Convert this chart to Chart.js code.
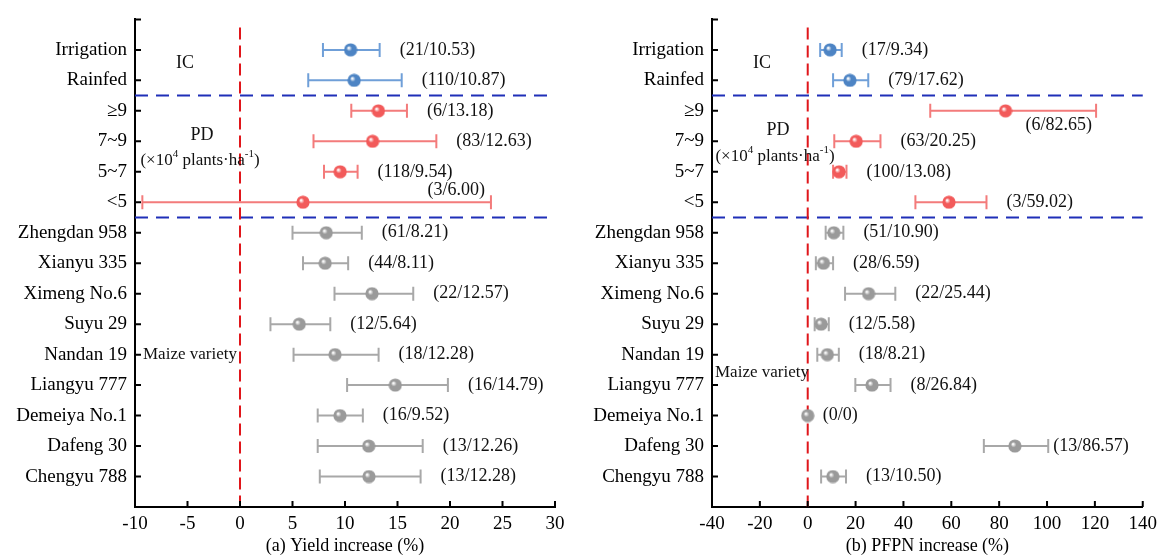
<!DOCTYPE html>
<html>
<head>
<meta charset="utf-8">
<script src="https://cdn.jsdelivr.net/npm/chart.js@4.4.0/dist/chart.umd.min.js"></script>
<style>
body { margin: 0; background: #fff; }
#wrap { position: relative; width: 1163px; height: 557px; }
.panel { position: absolute; top: 0; }
</style>
</head>
<body>
<div id="wrap">
  <div class="panel" style="left:0"><canvas id="yieldChart" width="580" height="557"></canvas></div>
  <div class="panel" style="left:580px"><canvas id="pfpnChart" width="583" height="557"></canvas></div>
</div>
<script>
var categories = ['Irrigation', 'Rainfed', '\u22659', '7~9', '5~7', '<5',
    'Zhengdan 958', 'Xianyu 335', 'Ximeng No.6', 'Suyu 29', 'Nandan 19',
    'Liangyu 777', 'Demeiya No.1', 'Dafeng 30', 'Chengyu 788'];
var groups = ['ic', 'ic', 'pd', 'pd', 'pd', 'pd',
    'mv', 'mv', 'mv', 'mv', 'mv', 'mv', 'mv', 'mv', 'mv'];

// (a) yield increase (%)
var yieldMean = [10.53, 10.87, 13.18, 12.63, 9.54, 6.00, 8.21, 8.11, 12.57, 5.64, 9.05, 14.79, 9.52, 12.26, 12.28];
var yieldLow = [7.9, 6.5, 10.6, 7.0, 8.0, -9.3, 5.0, 6.0, 9.0, 2.9, 5.1, 10.2, 7.4, 7.4, 7.6];
var yieldHigh = [13.3, 15.4, 15.9, 18.7, 11.2, 23.9, 11.6, 10.3, 16.5, 8.6, 13.2, 19.8, 11.7, 17.4, 17.2];
var yieldText = ['(21/10.53)', '(110/10.87)', '(6/13.18)', '(83/12.63)', '(118/9.54)', '(3/6.00)',
    '(61/8.21)', '(44/8.11)', '(22/12.57)', '(12/5.64)', '(18/12.28)', '(16/14.79)',
    '(16/9.52)', '(13/12.26)', '(13/12.28)'];
var yieldTicks = [-10, -5, 0, 5, 10, 15, 20, 25, 30];

// (b) PFPN increase (%)
var pfpnMean = [9.34, 17.62, 82.65, 20.25, 13.08, 59.02, 10.90, 6.59, 25.44, 5.58, 8.21, 26.84, 0, 86.57, 10.50];
var pfpnLow = [5.2, 10.6, 51.2, 11.1, 10.6, 45.0, 7.5, 3.4, 15.6, 2.9, 4.0, 19.9, 0, 73.6, 5.6];
var pfpnHigh = [14.2, 25.3, 120.5, 30.4, 16.2, 74.7, 14.9, 10.6, 36.6, 8.8, 13.0, 34.6, 0, 100.5, 16.0];
var pfpnText = ['(17/9.34)', '(79/17.62)', '(6/82.65)', '(63/20.25)', '(100/13.08)', '(3/59.02)',
    '(51/10.90)', '(28/6.59)', '(22/25.44)', '(12/5.58)', '(18/8.21)', '(8/26.84)',
    '(0/0)', '(13/86.57)', '(13/10.50)'];
var pfpnTicks = [-40, -20, 0, 20, 40, 60, 80, 100, 120, 140];

var groupSplits = [2.5, 6.5];

var serif = "'Liberation Serif', 'Times New Roman', serif";
var barColors = { ic: '#6f9fd8', pd: '#f37b7b', mv: '#a8a8a8' };
var dotColors = { ic: '#4d84c4', pd: '#f25a5a', mv: '#9a9a9a' };

var makeBall = function (color) {
    var c = document.createElement('canvas');
    c.width = 14;
    c.height = 14;
    var g = c.getContext('2d');
    var grad = g.createRadialGradient(5, 5, 0.5, 7, 7, 7);
    grad.addColorStop(0, '#ffffff');
    grad.addColorStop(0.35, color);
    grad.addColorStop(1, color);
    g.fillStyle = grad;
    g.beginPath();
    g.arc(7, 7, 6.6, 0, Math.PI * 2);
    g.fill();
    return c;
};
var balls = { ic: makeBall(dotColors.ic), pd: makeBall(dotColors.pd), mv: makeBall(dotColors.mv) };

var drawSup = function (ctx, parts, cx, cy) {
    var big = '17px ' + serif, small = '11px ' + serif;
    var total = 0;
    parts.forEach(function (p) {
        ctx.font = p.sup ? small : big;
        total += ctx.measureText(p.t).width;
    });
    var x = cx - total / 2;
    ctx.textAlign = 'left';
    ctx.textBaseline = 'middle';
    parts.forEach(function (p) {
        ctx.font = p.sup ? small : big;
        ctx.fillText(p.t, x, p.sup ? cy - 6 : cy);
        x += ctx.measureText(p.t).width;
    });
};
var unitParts = [{ t: '(\u00d710' }, { t: '4', sup: true }, { t: ' plants\u00b7ha' }, { t: '-1', sup: true }, { t: ')' }];

var forestPlugin = function (cfg) {
    return {
        id: 'forest',
        beforeDatasetsDraw: function (chart) {
            var ctx = chart.ctx, a = chart.chartArea;
            var xs = chart.scales.x, ys = chart.scales.y;
            ctx.save();
            // group separators
            ctx.strokeStyle = '#1f2fb8';
            ctx.lineWidth = 2;
            ctx.setLineDash([13, 8]);
            groupSplits.forEach(function (v) {
                var py = ys.getPixelForValue(v);
                ctx.beginPath();
                ctx.moveTo(a.left, py);
                ctx.lineTo(a.right, py);
                ctx.stroke();
            });
            // zero line
            ctx.strokeStyle = '#e0161b';
            ctx.setLineDash([12, 6]);
            var px0 = xs.getPixelForValue(0);
            ctx.beginPath();
            ctx.moveTo(px0, a.top + 8);
            ctx.lineTo(px0, a.bottom);
            ctx.stroke();
            ctx.setLineDash([]);
            // error bars
            ctx.lineWidth = 2;
            for (var i = 0; i < categories.length; i++) {
                if (cfg.low[i] === cfg.high[i]) continue;
                var py = ys.getPixelForValue(i + 1);
                var l = xs.getPixelForValue(cfg.low[i]);
                var h = xs.getPixelForValue(cfg.high[i]);
                ctx.strokeStyle = barColors[groups[i]];
                ctx.beginPath();
                ctx.moveTo(l, py); ctx.lineTo(h, py);
                ctx.moveTo(l, py - 7); ctx.lineTo(l, py + 7);
                ctx.moveTo(h, py - 7); ctx.lineTo(h, py + 7);
                ctx.stroke();
            }
            ctx.restore();
        },
        afterDatasetsDraw: function (chart) {
            var ctx = chart.ctx, a = chart.chartArea;
            var xs = chart.scales.x, ys = chart.scales.y;
            ctx.save();
            // inward tick marks
            ctx.strokeStyle = '#000';
            ctx.lineWidth = 2;
            ctx.beginPath();
            for (var k = 0; k <= categories.length; k++) {
                var ty = ys.getPixelForValue(k);
                ctx.moveTo(a.left, ty); ctx.lineTo(a.left + 6, ty);
            }
            cfg.ticks.forEach(function (t) {
                var tx = xs.getPixelForValue(t);
                ctx.moveTo(tx, a.bottom); ctx.lineTo(tx, a.bottom - 6);
            });
            ctx.stroke();
            // value labels
            ctx.fillStyle = '#111';
            ctx.font = '18px ' + serif;
            ctx.textBaseline = 'middle';
            for (var i = 0; i < categories.length; i++) {
                var py = ys.getPixelForValue(i + 1);
                var h = xs.getPixelForValue(cfg.high[i]);
                var place = cfg.place[i] || 'right';
                if (place === 'above') {
                    ctx.textAlign = 'right';
                    ctx.fillText(cfg.text[i], h - 6, py - 12);
                } else if (place === 'below') {
                    ctx.textAlign = 'right';
                    ctx.fillText(cfg.text[i], h - 4, py + 14);
                } else if (place === 'tight') {
                    ctx.textAlign = 'left';
                    ctx.fillText(cfg.text[i], h + 5, py);
                } else if (place === 'dot') {
                    ctx.textAlign = 'left';
                    ctx.fillText(cfg.text[i], h + 15, py);
                } else {
                    ctx.textAlign = 'left';
                    ctx.fillText(cfg.text[i], h + 20, py);
                }
            }
            // group names
            ctx.font = '18px ' + serif;
            ctx.textAlign = 'center';
            ctx.fillText('IC', a.left + cfg.icX, ys.getPixelForValue(cfg.icY));
            ctx.fillText('PD', a.left + cfg.pdX, ys.getPixelForValue(cfg.pdY));
            drawSup(ctx, unitParts, a.left + cfg.unitX, ys.getPixelForValue(cfg.unitY));
            ctx.font = '17px ' + serif;
            ctx.textAlign = 'left';
            ctx.fillText('Maize variety', a.left + cfg.mvX, ys.getPixelForValue(cfg.mvY));
            ctx.restore();
        }
    };
};

var makeChart = function (id, cfg) {
    var ctx = document.getElementById(id).getContext('2d');
    return new Chart(ctx, {
        type: 'scatter',
        data: {
            datasets: [{
                data: cfg.mean.map(function (m, i) { return { x: m, y: i + 1 }; }),
                pointStyle: function (c) { return balls[groups[c.dataIndex]]; },
                pointRadius: 7,
                showLine: false
            }]
        },
        options: {
            responsive: false,
            animation: false,
            events: [],
            layout: { padding: { left: 0, right: cfg.padRight, top: 15, bottom: 0 } },
            plugins: { legend: { display: false }, tooltip: { enabled: false } },
            scales: {
                x: {
                    type: 'linear',
                    min: cfg.ticks[0],
                    max: cfg.ticks[cfg.ticks.length - 1],
                    afterBuildTicks: function (s) { s.ticks = cfg.ticks.map(function (v) { return { value: v }; }); },
                    afterFit: function (s) { s.height = 50; },
                    grid: { display: false, drawTicks: false },
                    border: { display: true, color: '#000', width: 2 },
                    ticks: { color: '#000', padding: 6, maxRotation: 0, font: { family: serif, size: 19 } },
                    title: { display: true, text: cfg.title, color: '#000', padding: { top: 0, bottom: 0 }, font: { family: serif, size: 18 } }
                },
                y: {
                    type: 'linear',
                    min: 0,
                    max: 16,
                    reverse: true,
                    afterBuildTicks: function (s) { s.ticks = categories.map(function (c, i) { return { value: i + 1 }; }); },
                    afterFit: function (s) { s.width = cfg.axisLeft; },
                    grid: { display: false, drawTicks: false },
                    border: { display: true, color: '#000', width: 2 },
                    ticks: {
                        color: '#000',
                        padding: 8,
                        autoSkip: false,
                        font: { family: serif, size: 19 },
                        callback: function (v) { return categories[v - 1]; }
                    }
                }
            }
        },
        plugins: [forestPlugin(cfg)]
    });
};

makeChart('yieldChart', {
    mean: yieldMean, low: yieldLow, high: yieldHigh, text: yieldText, ticks: yieldTicks,
    title: '(a) Yield increase (%)',
    axisLeft: 135, padRight: 25,
    place: { 5: 'above' },
    icX: 50, icY: 1.45, pdX: 67, pdY: 3.8, unitX: 65, unitY: 4.62, mvX: 8, mvY: 11
});
makeChart('pfpnChart', {
    mean: pfpnMean, low: pfpnLow, high: pfpnHigh, text: pfpnText, ticks: pfpnTicks,
    title: '(b) PFPN increase (%)',
    axisLeft: 132, padRight: 20,
    place: { 2: 'below', 12: 'dot', 13: 'tight' },
    icX: 50, icY: 1.45, pdX: 66, pdY: 3.65, unitX: 63, unitY: 4.5, mvX: 3, mvY: 11.6
});
</script>
</body>
</html>
